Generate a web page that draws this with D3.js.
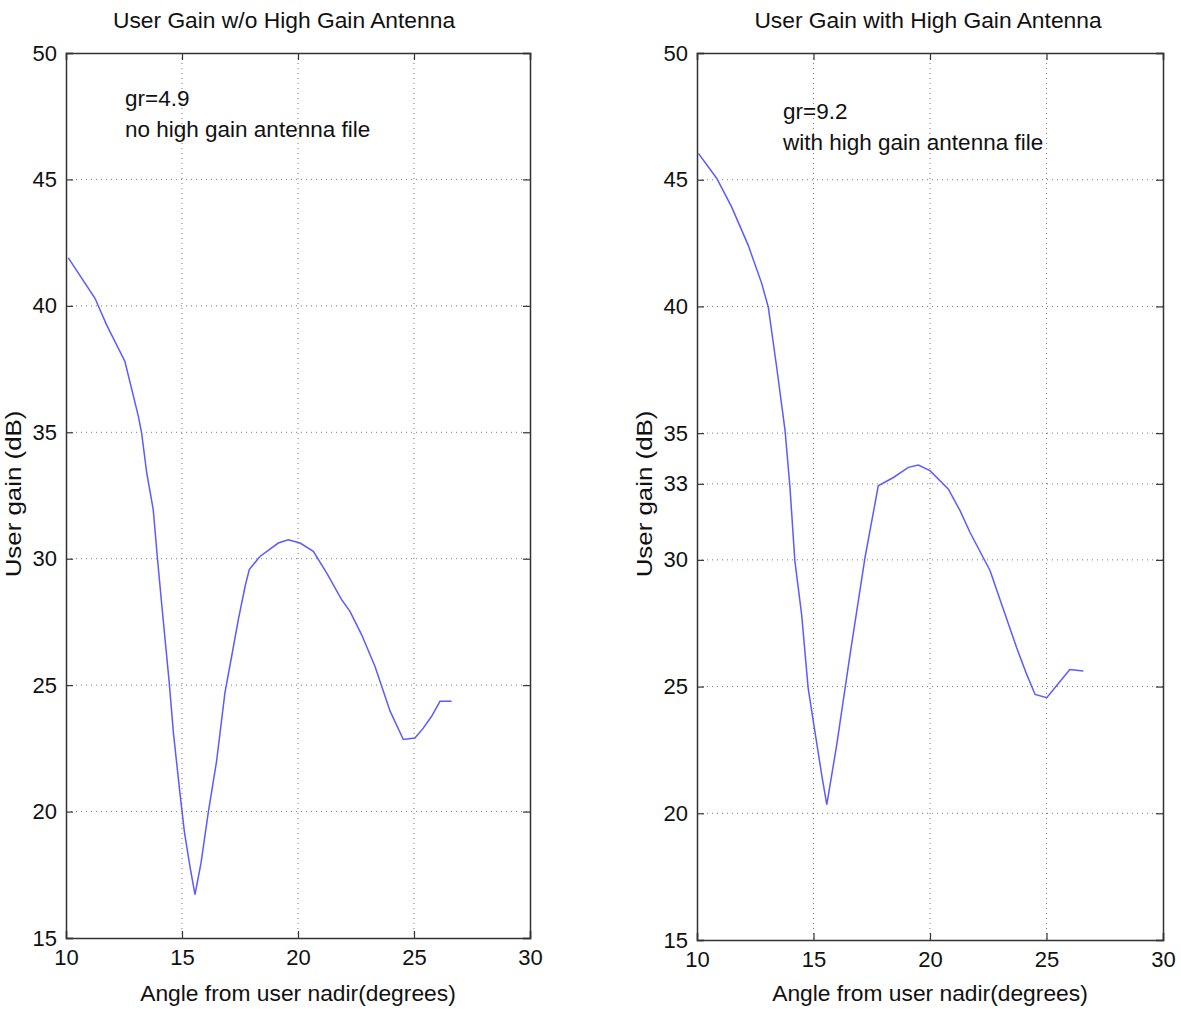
<!DOCTYPE html>
<html>
<head>
<meta charset="utf-8">
<script src="https://cdn.jsdelivr.net/npm/d3@7"></script>
<style>
  body { margin: 0; background: #fff; }
  text { font-family: "Liberation Sans", Arial, sans-serif; fill: #111; }
</style>
</head>
<body>
<script>
// data
var leftAngle = [10.1, 11.25, 11.75, 12.54, 13.12, 13.26, 13.48, 13.76, 13.94, 14.12, 14.45, 14.63, 14.91, 15.1, 15.34, 15.56,
                 15.82, 16.13, 16.49, 16.85, 17.18, 17.43, 17.72, 17.9, 18.36, 19.15, 19.58, 20.09, 20.66, 21.24, 21.88,
                 22.24, 22.74, 23.32, 23.97, 24.54, 25.04, 25.4, 25.76, 26.12, 26.62];
var leftGain  = [41.9, 40.3, 39.25, 37.8, 35.63, 34.97, 33.39, 31.94, 30.03, 28.25, 25.09, 23.11, 20.74, 19.22, 17.84, 16.72,
                 17.97, 19.95, 21.99, 24.69, 26.34, 27.6, 28.91, 29.57, 30.09, 30.62, 30.75, 30.62, 30.29, 29.43, 28.38,
                 27.92, 27.0, 25.74, 23.97, 22.85, 22.91, 23.3, 23.77, 24.36, 24.36];

var rightAngle = [10.06, 10.85, 11.49, 12.2, 12.78, 13.06, 13.42, 13.78, 13.99, 14.2, 14.49, 14.77, 14.99, 15.35, 15.57,
                  16.0, 16.57, 17.21, 17.78, 18.43, 19.07, 19.5, 20.0, 20.79, 21.29, 21.72, 22.58, 23.0, 23.72, 24.15,
                  24.51, 25.01, 25.36, 26.0, 26.58];
var rightGain  = [46.04, 45.05, 43.92, 42.41, 40.9, 39.97, 37.6, 35.1, 32.86, 29.96, 27.85, 24.95, 23.64, 21.53, 20.34,
                  22.72, 26.27, 30.09, 32.92, 33.25, 33.65, 33.74, 33.52, 32.79, 31.94, 31.08, 29.57, 28.45, 26.53, 25.48,
                  24.69, 24.56, 24.95, 25.67, 25.61];

var xTicks = [10, 15, 20, 25, 30];
var leftYTicks = [15, 20, 25, 30, 35, 40, 45, 50];
var rightYTicks = [15, 20, 25, 30, 33, 35, 40, 45, 50];

var titles = ["User Gain w/o High Gain Antenna", "User Gain with High Gain Antenna"];
var notes = [["gr=4.9", "no high gain antenna file"], ["gr=9.2", "with high gain antenna file"]];
var xLabel = "Angle from user nadir(degrees)";
var yLabel = "User gain (dB)";

var W = 1181, H = 1009;
var svg = d3.select("body").append("svg").attr("width", W).attr("height", H);

// panel boxes (pixel frame of each axes)
var panels = [
  {x0: 66, x1: 530, y0: 53, y1: 938, angle: leftAngle, gain: leftGain, yTicks: leftYTicks,
   title: titles[0], titleX: 284, note: notes[0], noteX: 125, noteY: 106},
  {x0: 697, x1: 1163, y0: 53, y1: 940, angle: rightAngle, gain: rightGain, yTicks: rightYTicks,
   title: titles[1], titleX: 928, note: notes[1], noteX: 783, noteY: 119}
];

panels.forEach(function(p) {
  var x = d3.scaleLinear().domain([10, 30]).range([p.x0, p.x1]);
  var y = d3.scaleLinear().domain([15, 50]).range([p.y1, p.y0]);
  var g = svg.append("g");

  // grid
  g.selectAll(".vg").data(xTicks.slice(1, -1)).enter().append("line")
    .attr("x1", function(d){ return x(d); }).attr("x2", function(d){ return x(d); })
    .attr("y1", p.y0).attr("y2", p.y1)
    .attr("stroke", "#777").attr("stroke-width", 1).attr("stroke-dasharray", "1,4");
  g.selectAll(".hg").data(p.yTicks.slice(1, -1)).enter().append("line")
    .attr("y1", function(d){ return y(d); }).attr("y2", function(d){ return y(d); })
    .attr("x1", p.x0).attr("x2", p.x1)
    .attr("stroke", "#777").attr("stroke-width", 1).attr("stroke-dasharray", "1,4");

  // axes with inward ticks, box style
  var fs = "22px";
  var bottom = g.append("g").attr("transform", "translate(0," + p.y1 + ")")
    .call(d3.axisBottom(x).tickValues(xTicks).tickSize(-7).tickPadding(11).tickFormat(d3.format("d")));
  bottom.selectAll("text").style("font-size", fs);
  var top = g.append("g").attr("transform", "translate(0," + p.y0 + ")")
    .call(d3.axisTop(x).tickValues(xTicks).tickSize(-7).tickFormat(""));
  var left = g.append("g").attr("transform", "translate(" + p.x0 + ",0)")
    .call(d3.axisLeft(y).tickValues(p.yTicks).tickSize(-7).tickPadding(9).tickFormat(d3.format("d")));
  left.selectAll("text").style("font-size", fs);
  var right = g.append("g").attr("transform", "translate(" + p.x1 + ",0)")
    .call(d3.axisRight(y).tickValues(p.yTicks).tickSize(-7).tickFormat(""));
  [bottom, top, left, right].forEach(function(a) {
    a.select(".domain").attr("stroke", "#333").attr("stroke-width", 1.5);
    a.selectAll(".tick line").attr("stroke", "#333").attr("stroke-width", 1.2);
  });

  // curve
  var pts = p.angle.map(function(a, i){ return [a, p.gain[i]]; });
  g.append("path").datum(pts)
    .attr("fill", "none").attr("stroke", "#5b5bff").attr("stroke-width", 1.5)
    .attr("d", d3.line().x(function(d){ return x(d[0]); }).y(function(d){ return y(d[1]); }));

  // texts
  g.append("text").attr("x", p.titleX).attr("y", 28).attr("text-anchor", "middle")
    .style("font-size", "22.8px").text(p.title);
  g.append("text").attr("x", (p.x0 + p.x1) / 2).attr("y", 1001).attr("text-anchor", "middle")
    .style("font-size", "22.8px").text(xLabel);
  g.append("text").attr("transform", "translate(" + (p.x0 - 45) + ",494) rotate(-90) scale(1.15,1)")
    .attr("text-anchor", "middle").style("font-size", "22.5px").text(yLabel);
  g.append("text").attr("x", p.noteX).attr("y", p.noteY).style("font-size", "22.5px").text(p.note[0]);
  g.append("text").attr("x", p.noteX).attr("y", p.noteY + 31).style("font-size", "22.5px").text(p.note[1]);
});
</script>
</body>
</html>
